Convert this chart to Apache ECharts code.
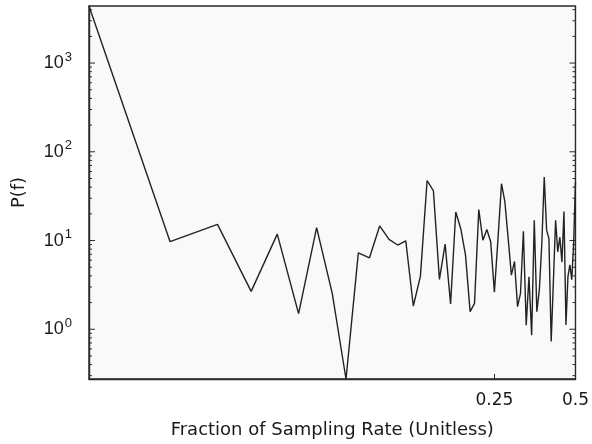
<!DOCTYPE html>
<html>
<head>
<meta charset="utf-8">
<script src="https://cdn.jsdelivr.net/npm/echarts@6/dist/echarts.min.js"></script>
<style>
  html, body { margin: 0; padding: 0; background: #ffffff; }
  #chart { width: 592px; height: 444px; }
</style>
</head>
<body>
<div id="chart"></div>
<script>
// Periodogram of a 128-sample record: power at bins k = 1 .. 64
const sampleCount = 128;
const power = [
  4400, 9.7, 15.2, 2.67, 11.8, 1.50, 14.0, 2.54, 0.275, 7.27,
  6.39, 14.6, 10.3, 8.9, 9.9, 1.83, 3.97, 47.5, 36.2, 3.65,
  9.1, 1.93, 21.0, 13.6, 6.84, 1.58, 1.96, 22.3, 10.1, 13.3,
  9.67, 2.61, 10.5, 43.7, 27.2, 10.5, 4.07, 5.81, 1.80, 2.54,
  12.7, 1.11, 3.91, 0.856, 16.9, 1.58, 2.81, 9.25, 52.0, 13.1,
  10.5, 0.727, 3.55, 16.9, 7.46, 10.9, 5.71, 21.2, 1.12, 3.91,
  5.33, 3.62, 9.25, 45.7
];

// Axis ranges and tick values
const xRange = [1 / 128, 0.5];
const yRange = [0.275, 4400];
const xTickValues = [0.25, 0.5];
const yMajorTicks = [1, 10, 100, 1000];
const yMinorTicks = [
  0.3, 0.4, 0.5, 0.6, 0.7, 0.8, 0.9,
  2, 3, 4, 5, 6, 7, 8, 9,
  20, 30, 40, 50, 60, 70, 80, 90,
  200, 300, 400, 500, 600, 700, 800, 900,
  2000, 3000, 4000
];

const seriesData = power.map((p, i) => [(i + 1) / sampleCount, p]);

const textColor = '#1a1a1a';
const labelFont = '"Liberation Sans", Arial, Helvetica, sans-serif';
const titleFont = '"DejaVu Sans", Verdana, sans-serif';

// Short inward tick marks on the log y axis (both sides of the box)
const tickData = yMinorTicks.map(v => [xRange[0], v, 3])
  .concat(yMajorTicks.map(v => [xRange[0], v, 6]));

const chart = echarts.init(document.getElementById('chart'), null, { renderer: 'canvas' });

chart.setOption({
  animation: false,
  backgroundColor: '#ffffff',
  grid: {
    left: 89, right: 16, top: 6, bottom: 63,
    show: true,
    backgroundColor: '#f9f9f9',
    borderColor: '#2a2a2a',
    borderWidth: 1.4
  },
  xAxis: {
    type: 'log',
    logBase: 2,
    min: xRange[0],
    max: xRange[1],
    name: 'Fraction of Sampling Rate (Unitless)',
    nameLocation: 'middle',
    nameGap: 42,
    nameTextStyle: { color: textColor, fontSize: 18, fontFamily: titleFont },
    axisLine: { show: true, onZero: false, lineStyle: { color: '#2a2a2a', width: 1.4 } },
    axisTick: { show: true, inside: true, length: 5, customValues: [xTickValues[0]], lineStyle: { color: '#2a2a2a' } },
    axisLabel: {
      customValues: xTickValues,
      color: textColor, fontSize: 17, fontFamily: titleFont, margin: 13,
      formatter: v => String(+v.toFixed(4))
    },
    splitLine: { show: false }
  },
  yAxis: {
    type: 'log',
    logBase: 10,
    min: yRange[0],
    max: yRange[1],
    name: 'P(f)',
    nameLocation: 'middle',
    nameGap: 61,
    nameTextStyle: { color: textColor, fontSize: 18, fontFamily: titleFont },
    axisLine: { show: true, onZero: false, lineStyle: { color: '#2a2a2a', width: 1.4 } },
    axisTick: { show: false },
    axisLabel: {
      customValues: yMajorTicks,
      margin: 17,
      formatter: v => '{b|10}{s|' + Math.round(Math.log10(v)) + '}',
      rich: {
        b: { color: textColor, fontSize: 18, fontFamily: labelFont },
        s: { color: textColor, fontSize: 13, fontFamily: labelFont, verticalAlign: 'bottom', padding: [0, 0, 12, 1] }
      }
    },
    splitLine: { show: false }
  },
  series: [
    {
      type: 'custom',
      silent: true,
      clip: false,
      data: tickData,
      renderItem: (params, api) => {
        const cs = params.coordSys;
        const y = api.coord([api.value(0), api.value(1)])[1];
        const len = api.value(2);
        const style = { stroke: '#2a2a2a', lineWidth: 1 };
        return {
          type: 'group',
          children: [
            { type: 'line', shape: { x1: cs.x, y1: y, x2: cs.x + len, y2: y }, style: style },
            { type: 'line', shape: { x1: cs.x + cs.width - len, y1: y, x2: cs.x + cs.width, y2: y }, style: style }
          ]
        };
      },
      z: 3
    },
    {
      type: 'line',
      data: seriesData,
      showSymbol: false,
      symbol: 'none',
      lineStyle: { color: '#222222', width: 1.4 },
      z: 4
    }
  ]
});
</script>
</body>
</html>
